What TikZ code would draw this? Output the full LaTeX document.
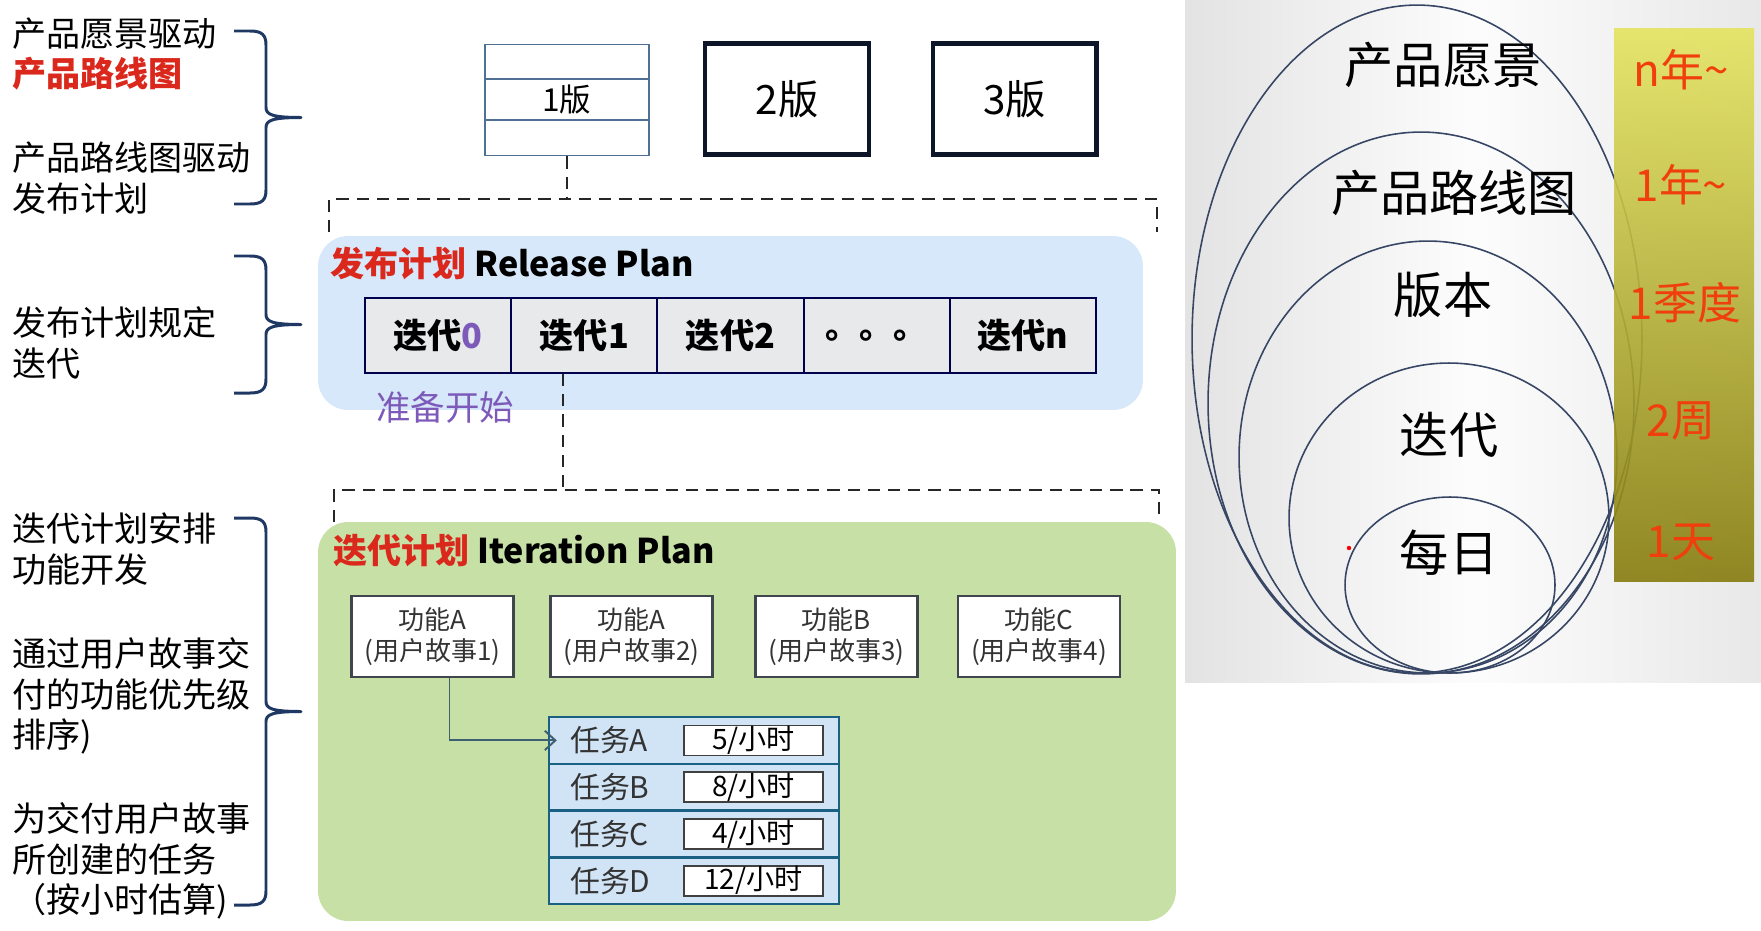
\documentclass[tikz,border=0pt]{standalone}
\usepackage{fontspec}
\setmainfont{Noto Sans CJK SC}
\usepackage{xcolor}
\usetikzlibrary{arrows.meta}
\usetikzlibrary{calc}
\tikzset{>=latex}
\definecolor{navy}{RGB}{31,56,100}
\definecolor{verblue}{RGB}{80,112,150}
\definecolor{plred}{RGB}{218,40,28}
\definecolor{tmred}{RGB}{240,62,12}
\definecolor{relblue}{RGB}{214,232,250}
\definecolor{itgreen}{RGB}{198,224,166}
\definecolor{taskblue}{RGB}{208,228,246}
\definecolor{cellgray}{RGB}{232,233,235}
\definecolor{prep}{RGB}{125,90,185}
\definecolor{ringcol}{RGB}{55,70,100}
\definecolor{arrcol}{RGB}{62,96,112}
\tikzstyle{lefttxt}=[anchor=west,align=left,inner sep=0pt,font=\fontsize{19.4}{23}\selectfont]
\tikzstyle{brc}=[navy,line width=1.7pt,line join=round]
\tikzstyle{dashline}=[black!85,line width=1.5pt,dash pattern=on 7pt off 4.5pt]
\tikzstyle{verbox}=[draw,minimum width=3.28cm,minimum height=2.22cm,inner sep=0pt]
\tikzstyle{itcell}=[draw=black!70!blue,line width=1.1pt,fill=cellgray,minimum width=2.924cm,minimum height=1.5cm,inner sep=0pt,font=\bfseries\fontsize{19.5}{22}\selectfont]
\tikzstyle{featbox}=[draw=black!80!cyan,line width=1.3pt,fill=white,align=center,minimum width=3.24cm,minimum height=1.62cm,inner sep=0pt,text=black!80,font=\fontsize{14.8}{18}\selectfont]
\tikzstyle{taskrow}=[draw=navy!80!cyan,line width=1.4pt,fill=taskblue,minimum width=5.8cm,minimum height=0.935cm,inner sep=0pt]
\tikzstyle{hourbox}=[draw=black!75,line width=1pt,fill=white,minimum width=2.78cm,minimum height=0.6cm,inner sep=0pt,font=\fontsize{16}{18}\selectfont]
\tikzstyle{ring}=[ringcol,line width=0.9pt]
\tikzstyle{ringtxt}=[font=\fontsize{28}{30}\selectfont]
\tikzstyle{spantxt}=[tmred,font=\fontsize{25}{27}\selectfont]
% curly bracket: x, top y, bottom y
\newcommand{\curlyb}[3]{%
  \pgfmathsetmacro\ym{(#2+#3)/2}
  \draw[brc] (#1,#2) -- (#1+16,#2) .. controls (#1+28,#2) and (#1+32,#2+4) .. (#1+32,#2+14)
    -- (#1+32,\ym-10) .. controls (#1+32,\ym-3) and (#1+38,\ym) .. (#1+67,\ym)
    .. controls (#1+38,\ym) and (#1+32,\ym+3) .. (#1+32,\ym+10)
    -- (#1+32,#3-14) .. controls (#1+32,#3-4) and (#1+28,#3) .. (#1+16,#3) -- (#1,#3);
}

\begin{document}
\begin{tikzpicture}[x=0.02cm,y=-0.02cm]
    \useasboundingbox (0,0) rectangle (1761,930);
    \def\u{0.02cm}

    % left column
    \node[lefttxt] (vis)  at (12,54)  {产品愿景驱动\\\textcolor{plred}{\bfseries 产品路线图}};
    \node[lefttxt] (road) at (12,178) {产品路线图驱动\\发布计划};
    \node[lefttxt] (rel)  at (12,343) {发布计划规定\\迭代};
    \node[lefttxt] (itp)  at (12,549) {迭代计划安排\\功能开发};
    \node[lefttxt] (prio) at (12,696) {通过用户故事交\\付的功能优先级\\排序)};
    \node[lefttxt] (task) at (12,861) {为交付用户故事\\所创建的任务\\（按小时估算)};
    \curlyb{234}{31}{204}
    \curlyb{234}{256}{393}
    \curlyb{234}{518}{905}

    % versions
    \node[verbox,draw=verblue,line width=1.1pt,font=\fontsize{18}{20}\selectfont] (v1) at (567,100) {1版};
    \draw[verblue,line width=1.1pt] ($(v1.north west)!.31!(v1.south west)$) -- ($(v1.north east)!.31!(v1.south east)$);
    \draw[verblue,line width=1.1pt] ($(v1.north west)!.673!(v1.south west)$) -- ($(v1.north east)!.673!(v1.south east)$);
    \node[verbox,draw=navy!40!black,line width=2.3pt,font=\fontsize{23}{25}\selectfont] (v2) at (787,99) {2版};
    \node[verbox,draw=navy!40!black,line width=2.3pt,font=\fontsize{23}{25}\selectfont] (v3) at (1014.5,99) {3版};

    % zoom into version 1
    \coordinate (z1) at (560,199);
    \draw[dashline] (v1.south) -- (v1.south |- z1);
    \draw[dashline] (329,232) -- (329,199) -- (1157,199) -- (1157,232);

    % release plan
    \node[fill=relblue,rounded corners=0.6cm,minimum width=16.5cm,minimum height=3.48cm] (relplan) at (730.5,323) {};
    \node[anchor=west,inner sep=0pt,font=\bfseries\fontsize{19.4}{22}\selectfont] (reltitle) at (330,263) {\textcolor{plred}{发布计划} Release Plan};
    \foreach \lab [count=\k from 0] in {{迭代\textcolor{prep}{0}},迭代1,迭代2,。。。,迭代n}
        \node[itcell] (it\k) at (438.1+146.2*\k,335.5) {\lab};
    \node[anchor=west,inner sep=0pt,text=prep,font=\fontsize{19.6}{22}\selectfont] (start) at (376,407) {准备开始};

    % zoom into iteration
    \coordinate (z2) at (563,490);
    \draw[dashline] (it1.south -| z2) -- (z2);
    \draw[dashline] (334,522) -- (334,490) -- (1159,490) -- (1159,522);

    % iteration plan
    \node[fill=itgreen,rounded corners=0.6cm,minimum width=17.16cm,minimum height=7.98cm] (itplan) at (747,721.5) {};
    \node[anchor=west,inner sep=0pt,font=\bfseries\fontsize{19.4}{22}\selectfont] (ittitle) at (333,551) {\textcolor{plred}{迭代计划} Iteration Plan};
    \node[featbox] (f1) at (432.5,636.5) {功能A\\(用户故事1)};
    \node[featbox] (f2) at (631.5,636.5) {功能A\\(用户故事2)};
    \node[featbox] (f3) at (836.5,636.5) {功能B\\(用户故事3)};
    \node[featbox] (f4) at (1039,636.5) {功能C\\(用户故事4)};

    \foreach \t/\h [count=\k] in {A/5,B/8,C/4,D/12} {
        \node[taskrow] (tr\k) at (694,740.4+46.75*\k-46.75) {};
        \node[anchor=west,inner xsep=0.26cm,inner ysep=0pt,text=black!80,font=\fontsize{17}{19}\selectfont] (tk\k) at ($(tr\k.west)+(9,0)$) {任务\t};
        \node[hourbox] (hr\k) at (753.5,740.4+46.75*\k-46.75) {\h/小时};
    }
    \draw[arrcol,line width=1.1pt,-{Straight Barb[length=6pt,width=11pt]}] ([xshift=17*\u]f1.south) |- (tk1.west);

    % right panel
    \shade[left color=black!11,right color=black!9,middle color=black!1] (1185,0) rectangle (1761,682);
    \draw[ring] (1417,339) ellipse [x radius=4.50cm,y radius=6.68cm];
    \draw[ring] (1421,403) ellipse [x radius=4.26cm,y radius=5.42cm];
    \draw[ring] (1428,457) ellipse [x radius=3.78cm,y radius=4.32cm];
    \draw[ring] (1449,518) ellipse [x radius=3.20cm,y radius=3.10cm];
    \draw[ring] (1450,585) ellipse [x radius=2.10cm,y radius=1.76cm];
    \node[ringtxt] (vision)  at (1443,65)  {产品愿景};
    \node[ringtxt] (roadmap) at (1454,193) {产品路线图};
    \node[ringtxt] (release) at (1443,295) {版本};
    \node[ringtxt] (iter)    at (1449,435) {迭代};
    \node[ringtxt] (daily)   at (1449,553) {每日};
    \fill[red] (1349,548) circle (2.2*\u);

    \shade[top color={rgb,255:red,228;green,228;blue,96},bottom color={rgb,255:red,134;green,124;blue,14},fill opacity=.9] (1614,28) rectangle (1754,581);
    \node[spantxt] (sn) at (1681,70)  {n年\textasciitilde};
    \node[spantxt] (s1) at (1681,185) {1年\textasciitilde};
    \node[spantxt] (sq) at (1685,303) {1季度};
    \node[spantxt] (sw) at (1681,421) {2周};
    \node[spantxt] (sd) at (1681,542) {1天};
\end{tikzpicture}
\end{document}
